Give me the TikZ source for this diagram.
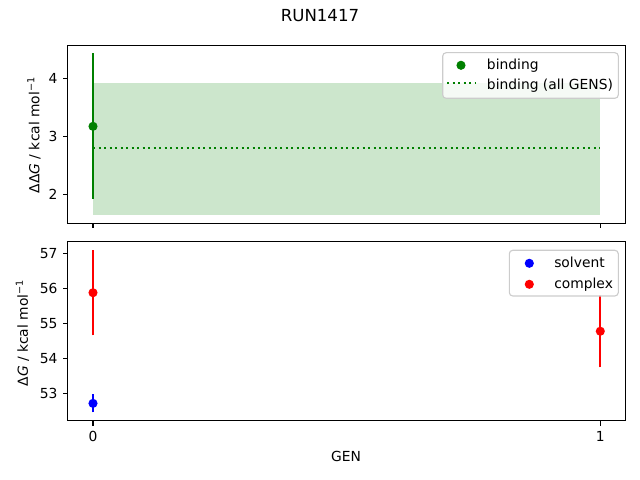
\documentclass[tikz,border=0pt]{standalone}
\usepackage{fontspec}
\setmainfont{DejaVu Sans}
\definecolor{mplgreen}{HTML}{008000}
\definecolor{mplred}{HTML}{FF0000}
\definecolor{mplblue}{HTML}{0000FF}

\begin{document}
\begin{tikzpicture}[x=0.01in,y=-0.01in,
    frame/.style={line width=0.8pt},
    tick/.style={line width=0.8pt},
    errbar/.style={line width=1.5pt},
    dot/.style={circle,inner sep=0pt,minimum size=6.6pt},
    legendbox/.style={draw=black!20,fill=white,fill opacity=0.8,rounded corners=2.5pt,line width=0.8pt},
    lbl/.style={inner sep=0pt,font=\fontsize{10}{12}\selectfont}]
    \useasboundingbox (0,0) rectangle (640,480);

    % title
    \node[lbl,anchor=base,font=\fontsize{12}{14}\selectfont] (title) at (320,22) {RUN1417};

    % upper panel: binding free energy
    \begin{scope}[shift={(93,310.3)},x=5.07in,y=0.58in]
      \fill[mplgreen,opacity=0.2] (0,1.64) rectangle (1,3.91);
      \draw[mplgreen,line width=1.5pt,dash pattern=on 1.5pt off 2.475pt] (0,2.79) -- (1,2.79);
      \draw[errbar,mplgreen] (0,1.92) -- (0,4.43);
      \node[dot,fill=mplgreen] (bind0) at (0,3.17) {};
      \draw[frame] (-0.05,1.50) rectangle (1.05,4.57);
      \foreach \v in {2,3,4}
        \draw[tick] (-0.05,\v) -- ++(-3.5pt,0) node[lbl,anchor=east,xshift=-3.5pt] (ytop\v) {\v};
      \foreach \g in {0,1}
        \draw[tick] (\g,1.50) -- ++(0,-3.5pt);
    \end{scope}
    \node[lbl,rotate=90,anchor=south] (ylabtop) at (41,135)
      {ΔΔ\textit{G} / kcal mol\textsuperscript{−1}};

    % lower panel: solvent and complex legs
    \begin{scope}[shift={(93,2249.3)},x=5.07in,y=0.35in]
      \draw[errbar,mplred] (0,54.65) -- (0,57.09);
      \node[dot,fill=mplred] (cplx0) at (0,55.87) {};
      \draw[errbar,mplred] (1,53.74) -- (1,55.80);
      \node[dot,fill=mplred] (cplx1) at (1,54.77) {};
      \draw[errbar,mplblue] (0,52.45) -- (0,52.98);
      \node[dot,fill=mplblue] (solv0) at (0,52.71) {};
      \draw[frame] (-0.05,52.21) rectangle (1.05,57.32);
      \foreach \v in {53,54,55,56,57}
        \draw[tick] (-0.05,\v) -- ++(-3.5pt,0) node[lbl,anchor=east,xshift=-3.5pt] (ybot\v) {\v};
      \foreach \g in {0,1}
        \draw[tick] (\g,52.21) -- ++(0,-3.5pt) node[lbl,anchor=north,yshift=-3.5pt] (xbot\g) {\g};
    \end{scope}
    \node[lbl,rotate=90,anchor=south] (ylabbot) at (29.5,333)
      {Δ\textit{G} / kcal mol\textsuperscript{−1}};
    \node[lbl,anchor=base] (xlab) at (346,462) {GEN};

    % legends
    \draw[legendbox] (442.7,52.7) rectangle (618.3,98.3);
    \node[dot,fill=mplgreen] (legbind) at (461,65.3) {};
    \coordinate (legdotsA) at (447,83.3);
    \coordinate (legdotsB) at (475,83.3);
    \draw[mplgreen,line width=1.5pt,dash pattern=on 1.5pt off 2.475pt] (legdotsA) -- (legdotsB);
    \node[lbl,anchor=base west] (txtbind) at (486.7,69.3) {binding};
    \node[lbl,anchor=base west] (txtall) at (486.7,89.3) {binding (all GENS)};

    \draw[legendbox] (509.3,250.3) rectangle (618.3,296);
    \node[dot,fill=mplblue] (legsolv) at (529.3,263.3) {};
    \node[dot,fill=mplred] (legcplx) at (529.3,284.3) {};
    \node[lbl,anchor=base west] (txtsolv) at (554,267.6) {solvent};
    \node[lbl,anchor=base west] (txtcplx) at (554,288.6) {complex};
\end{tikzpicture}
\end{document}
